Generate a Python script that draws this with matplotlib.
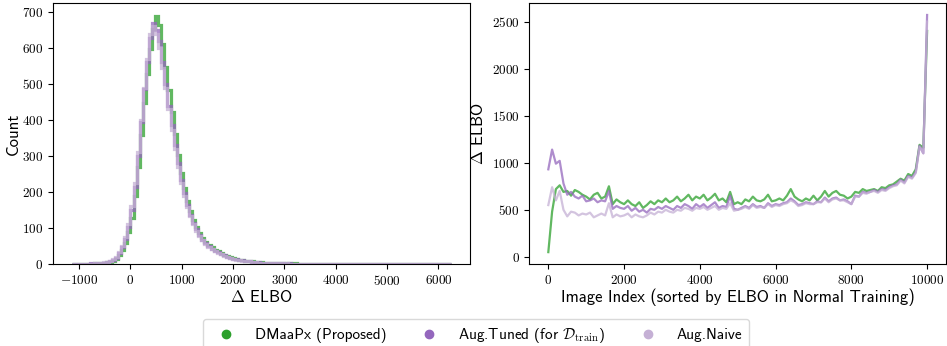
import numpy as np
import matplotlib
matplotlib.use("Agg")
import matplotlib.pyplot as plt
from matplotlib.lines import Line2D
from matplotlib.ticker import FuncFormatter

plt.rcParams['mathtext.fontset'] = 'cm'
plt.rcParams['axes.unicode_minus'] = False

# --- histogram of Delta ELBO (bins of width 60 starting at -1140) ---
bin_start = -1140
bin_width = 60
hist_green = [
    0, 1, 0, 1, 1, 1, 1, 2, 2, 3,
    3, 5, 6, 9, 14, 24, 38, 58, 88, 128,
    188, 268, 358, 448, 528, 598, 652, 690, 665, 612,
    548, 482, 422, 362, 302, 252, 212, 176, 146, 122,
    102, 86, 73, 62, 53, 46, 40, 35, 30, 26,
    22, 19, 16, 14, 12, 11, 9, 8, 7, 6,
    5, 5, 4, 4, 3, 3, 3, 2, 2, 2,
    2, 1, 2, 1, 1, 1, 1, 1, 0, 1,
    1, 0, 1, 1, 0, 1, 0, 1, 0, 1,
    0, 0, 1, 0, 1, 0, 0, 1, 0, 0,
    1, 0, 0, 0, 1, 0, 0, 1, 0, 0,
    0, 1, 0, 0, 0, 1, 0, 0, 0, 0,
    1, 0, 1,
]
hist_tuned = [
    0, 0, 1, 1, 0, 1, 2, 1, 2, 3,
    4, 5, 8, 11, 18, 30, 46, 70, 104, 150,
    215, 300, 395, 485, 560, 628, 670, 650, 618, 560,
    500, 440, 385, 330, 280, 232, 196, 164, 136, 114,
    96, 80, 68, 58, 50, 43, 37, 32, 28, 24,
    20, 17, 15, 13, 11, 10, 8, 7, 6, 5,
    5, 4, 4, 3, 3, 3, 2, 2, 2, 1,
    2, 1, 1, 1, 1, 0, 1, 1, 0, 1,
    0, 1, 1, 0, 1, 0, 0, 1, 0, 0,
    1, 0, 0, 1, 0, 0, 1, 0, 0, 1,
    0, 0, 1, 0, 0, 0, 1, 0, 0, 0,
    1, 0, 0, 1, 0, 0, 0, 0, 1, 0,
    0, 1, 0,
]
hist_naive = [
    1, 0, 1, 0, 1, 1, 1, 2, 3, 3,
    5, 6, 9, 13, 20, 32, 50, 75, 110, 160,
    225, 310, 400, 490, 570, 640, 662, 640, 600, 545,
    488, 430, 372, 320, 270, 225, 190, 158, 132, 110,
    92, 78, 66, 56, 48, 41, 36, 31, 27, 23,
    19, 16, 14, 12, 10, 9, 8, 7, 6, 5,
    4, 4, 3, 3, 3, 2, 2, 2, 1, 2,
    1, 1, 1, 1, 0, 1, 1, 0, 1, 0,
    1, 0, 0, 1, 0, 1, 0, 0, 1, 0,
    0, 1, 0, 0, 1, 0, 0, 0, 1, 0,
    0, 0, 1, 0, 0, 1, 0, 0, 0, 0,
    0, 1, 0, 0, 0, 0, 1, 0, 0, 0,
    1, 0, 0,
]

# --- Delta ELBO per image index (sampled every 100 images) ---
image_index = list(range(0, 10001, 100))
elbo_green = [
    50, 480, 720, 760, 690, 700, 650, 710, 690, 660,
    640, 610, 660, 680, 620, 640, 750, 560, 610, 580,
    560, 600, 560, 540, 580, 520, 550, 590, 560, 600,
    580, 620, 580, 600, 640, 590, 620, 660, 600, 640,
    620, 660, 600, 630, 670, 600, 620, 580, 690, 560,
    580, 560, 610, 590, 640, 600, 590, 610, 660, 590,
    600, 620, 600, 650, 720, 640, 610, 590, 620, 600,
    650, 600, 640, 700, 640, 680, 700, 660, 650, 620,
    640, 690, 680, 720, 700, 710, 720, 700, 740, 730,
    760, 770, 800, 830, 810, 880, 860, 930, 1190, 1160,
    2400,
]
elbo_tuned = [
    930, 1140, 990, 1020, 780, 660, 690, 640, 620, 650,
    590, 600, 620, 580, 600, 590, 700, 510, 540, 520,
    510, 540, 490, 520, 480, 500, 470, 510, 500, 530,
    510, 540, 520, 500, 540, 520, 560, 540, 510, 560,
    530, 560, 520, 550, 580, 520, 540, 530, 650, 510,
    500, 520, 540, 520, 560, 530, 540, 520, 570, 540,
    560, 550, 570, 580, 620, 590, 550, 560, 580, 570,
    560, 590, 580, 630, 590, 620, 630, 600, 610, 590,
    560, 650, 640, 690, 680, 690, 710, 690, 720, 710,
    740, 760, 770, 820, 790, 860, 840, 900, 1180, 1100,
    2570,
]
elbo_naive = [
    550, 740, 600, 700, 500, 430, 480, 470, 440, 460,
    450, 470, 420, 440, 460, 440, 570, 420, 450, 430,
    440, 460, 420, 450, 430, 420, 440, 470, 450, 480,
    470, 500, 480, 470, 500, 490, 520, 510, 490, 520,
    510, 530, 500, 520, 540, 500, 520, 510, 570, 490,
    500, 510, 530, 510, 550, 520, 530, 520, 560, 530,
    550, 540, 560, 570, 600, 580, 540, 550, 570, 560,
    560, 580, 580, 620, 580, 610, 620, 600, 600, 580,
    560, 640, 640, 680, 670, 690, 700, 680, 710, 700,
    730, 750, 760, 810, 780, 850, 830, 890, 1170, 1100,
    2500,
]

labels = ['DMaaPx (Proposed)',
          r'Aug.Tuned (for $\mathcal{D}_{\mathrm{train}}$)',
          'Aug.Naive']
colors = ['#2ca02c', '#9467bd', '#c5b0d5']

edges = bin_start + bin_width * np.arange(len(hist_green) + 1)
tick_fmt = FuncFormatter(lambda v, pos: r'$%d$' % v)
sans = 'cmss10'

fig = plt.figure(figsize=(9.47, 3.46), dpi=100)
ax1 = fig.add_axes([0.056, 0.237, 0.440, 0.754])
ax2 = fig.add_axes([0.559, 0.237, 0.440, 0.754])

for counts, c in zip([hist_green, hist_tuned, hist_naive], colors):
    ax1.stairs(counts, edges, color=c, alpha=0.75, lw=2.3)
ax1.set_ylim(bottom=0)
ax1.set_xlabel(r'$\Delta$ ELBO', fontsize=12, family=sans, labelpad=1)
ax1.set_ylabel('Count', fontsize=12, family=sans, labelpad=1)

for vals, c in zip([elbo_green, elbo_tuned, elbo_naive], colors):
    ax2.plot(image_index, vals, color=c, alpha=0.75, lw=1.6)
ax2.set_xlabel('Image Index (sorted by ELBO in Normal Training)',
               fontsize=12, family=sans, labelpad=1)
ax2.set_ylabel(r'$\Delta$ ELBO', fontsize=12, family=sans)
ax2.set_xticks([0, 2000, 4000, 6000, 8000, 10000])

for ax in (ax1, ax2):
    ax.xaxis.set_major_formatter(tick_fmt)
    ax.yaxis.set_major_formatter(tick_fmt)
    ax.tick_params(labelsize=9.5)

handles = [Line2D([], [], ls='none', marker='o', ms=6, color=c) for c in colors]
fig.legend(handles, labels, loc='upper center', bbox_to_anchor=(0.503, 0.078),
           borderaxespad=0, ncol=3, frameon=True, edgecolor='#d0d0d0',
           prop={'family': sans, 'size': 11},
           columnspacing=1.8, handletextpad=0.9, borderpad=0.45)

fig.savefig('out.png', dpi=100)
